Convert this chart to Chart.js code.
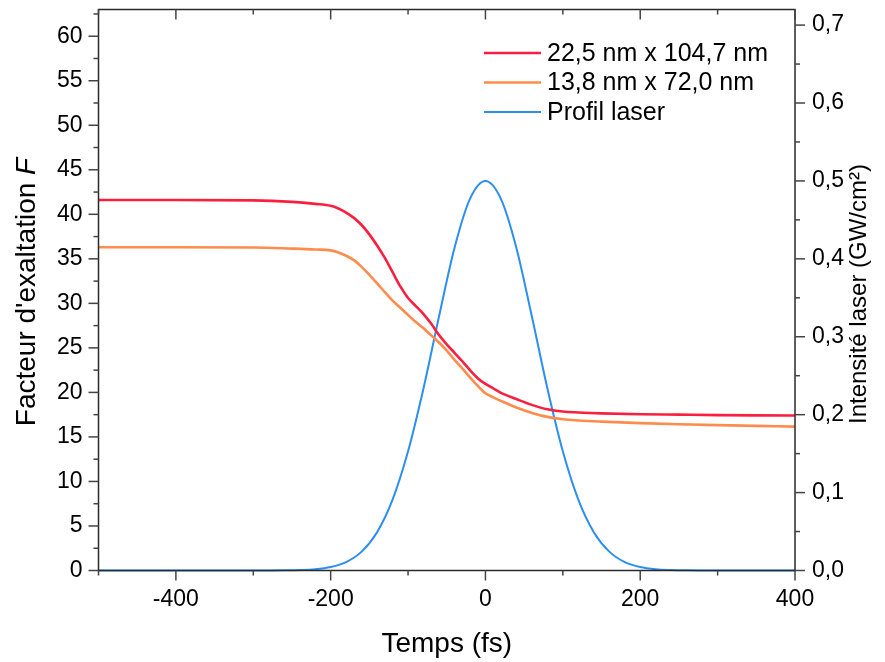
<!DOCTYPE html>
<html lang="fr">
<head>
<meta charset="utf-8">
<title>Facteur d'exaltation et profil laser</title>
<script src="https://cdn.jsdelivr.net/npm/chart.js@4.4.1/dist/chart.umd.min.js"></script>
<style>
  html, body { margin: 0; padding: 0; background: #fff; }
  #wrap { width: 885px; height: 662px; }
</style>
</head>
<body>
<div id="wrap"><canvas id="chart" width="885" height="662"></canvas></div>
<script>
// --- données ---
const temps = [-500, -400, -300, -250, -220,
  -200, -190, -180, -170, -160, -150, -140, -130, -120, -110,
  -100, -90, -80, -70, -60, -50, -40, -30, -20, -10, 0,
  10, 20, 40, 60, 80, 100, 120, 150, 200, 250, 300, 350, 400];
const facteurGrand = [41.6, 41.6, 41.57, 41.4, 41.17,
  40.95, 40.65, 40.2, 39.6, 38.8, 37.75, 36.5, 35.1, 33.5, 31.9,
  30.6, 29.7, 28.8, 27.7, 26.45, 25.4, 24.45, 23.5, 22.5, 21.6, 20.95,
  20.45, 19.95, 19.25, 18.6, 18.1, 17.85, 17.75, 17.65, 17.55, 17.5, 17.45, 17.42, 17.4];
const facteurPetit = [36.3, 36.3, 36.28, 36.15, 36.05,
  35.95, 35.72, 35.35, 34.85, 34.1, 33.2, 32.25, 31.25, 30.3, 29.5,
  28.7, 27.9, 27.2, 26.4, 25.6, 24.7, 23.65, 22.7, 21.7, 20.75, 19.9,
  19.45, 19.05, 18.3, 17.7, 17.25, 16.98, 16.85, 16.72, 16.55, 16.42, 16.32, 16.24, 16.16];

const tempsLaser = [-500, -300, -280, -260, -240, -220, -200, -180, -160, -140, -120, -100,
  -80, -60, -40, -20, 0, 20, 40, 60, 80, 100, 120, 140, 160, 180, 200, 220, 240, 260, 280, 300, 400];
const profilLaser = [0, 0, 0, 0.0002, 0.0006, 0.0016, 0.0044, 0.0108, 0.0242, 0.0492, 0.091, 0.153,
  0.234, 0.326, 0.414, 0.477, 0.5, 0.477, 0.414, 0.326, 0.234, 0.153, 0.091, 0.0492, 0.0242, 0.0108,
  0.0044, 0.0016, 0.0006, 0.0002, 0, 0, 0];

const nomsSeries = ['22,5 nm x 104,7 nm', '13,8 nm x 72,0 nm', 'Profil laser'];
const couleurs = ['#fb1f3f', '#ff8c4c', '#2c8ff0'];

const ticksTemps = [-400, -200, 0, 200, 400];
const ticksFacteur = [0, 5, 10, 15, 20, 25, 30, 35, 40, 45, 50, 55, 60];
const ticksIntensite = [0, 0.1, 0.2, 0.3, 0.4, 0.5, 0.6, 0.7];

const FONT = "'Liberation Sans', Arial, sans-serif";
Chart.defaults.font.family = FONT;
Chart.defaults.color = '#000';

const pts = (xs, ys) => xs.map((t, i) => ({ x: t, y: ys[i] }));

// pas de marge automatique autour des axes : la zone de tracé est fixée à la main
function sansMarge(s) {
  s.paddingTop = 0; s.paddingBottom = 0; s.paddingLeft = 0; s.paddingRight = 0;
}

// --- ticks majeurs / mineurs façon Origin ---
function graduations(scale, pas) {
  const out = [];
  const majeurs = scale.ticks.map(t => t.value);
  for (let i = 0; ; i++) {
    const v = Math.round((scale.min + i * pas) * 10000) / 10000;
    if (v > scale.max + 1e-9) break;
    out.push({ v, major: majeurs.some(m => Math.abs(m - v) < 1e-6) });
  }
  return out;
}

const cadre = {
  id: 'cadre',
  afterDatasetsDraw(chart) {
    const { ctx, chartArea: a, scales } = chart;
    ctx.save();
    ctx.strokeStyle = '#2a2a2a';
    ctx.lineWidth = 1.5;
    ctx.strokeRect(a.left, a.top, a.right - a.left, a.bottom - a.top);

    const trait = (x0, y0, x1, y1) => { ctx.beginPath(); ctx.moveTo(x0, y0); ctx.lineTo(x1, y1); ctx.stroke(); };
    ctx.strokeStyle = '#444';
    ctx.lineWidth = 1.5;

    graduations(scales.x, 100).forEach(g => {
      const p = scales.x.getPixelForValue(g.v), l = g.major ? 10 : 5;
      trait(p, a.bottom, p, a.bottom + l);
      trait(p, a.top, p, a.top + l);
    });
    graduations(scales.y, 2.5).forEach(g => {
      const p = scales.y.getPixelForValue(g.v), l = g.major ? 10 : 5;
      trait(a.left - l, p, a.left, p);
    });
    graduations(scales.y1, 0.05).forEach(g => {
      const p = scales.y1.getPixelForValue(g.v), l = g.major ? 10 : 5;
      trait(a.right, p, a.right + l, p);
    });
    ctx.restore();
  }
};

const titres = {
  id: 'titres',
  afterDraw(chart) {
    const { ctx, chartArea: a } = chart;
    const milieuY = (a.top + a.bottom) / 2;
    ctx.save();
    ctx.fillStyle = '#000';
    ctx.textBaseline = 'alphabetic';

    // axe gauche : "Facteur d'exaltation F" avec F en italique
    ctx.save();
    ctx.translate(35, milieuY + 2);
    ctx.rotate(-Math.PI / 2);
    const part1 = "Facteur d'exaltation ";
    ctx.font = `28px ${FONT}`;
    const w1 = ctx.measureText(part1).width;
    ctx.font = `italic 28px ${FONT}`;
    const w2 = ctx.measureText('F').width;
    ctx.textAlign = 'left';
    ctx.font = `28px ${FONT}`;
    ctx.fillText(part1, -(w1 + w2) / 2, 0);
    ctx.font = `italic 28px ${FONT}`;
    ctx.fillText('F', -(w1 + w2) / 2 + w1, 0);
    ctx.restore();

    // axe droit
    ctx.save();
    ctx.translate(866, milieuY + 4);
    ctx.rotate(-Math.PI / 2);
    ctx.textAlign = 'center';
    ctx.font = `24px ${FONT}`;
    ctx.fillText('Intensité laser (GW/cm²)', 0, 0);
    ctx.restore();

    // axe du bas
    ctx.textAlign = 'center';
    ctx.font = `28px ${FONT}`;
    ctx.fillText('Temps (fs)', (a.left + a.right) / 2, 652);

    // légende
    ctx.font = `25px ${FONT}`;
    ctx.textAlign = 'left';
    ctx.textBaseline = 'middle';
    chart.data.datasets.forEach((ds, i) => {
      const yy = 53 + i * 29.5;
      ctx.strokeStyle = ds.borderColor;
      ctx.lineWidth = ds.borderWidth;
      ctx.beginPath(); ctx.moveTo(484, yy); ctx.lineTo(541, yy); ctx.stroke();
      ctx.fillText(ds.label, 547, yy + 1);
    });
    ctx.restore();
  }
};

new Chart(document.getElementById('chart'), {
  type: 'line',
  data: {
    datasets: [
      { label: nomsSeries[0], data: pts(temps, facteurGrand), yAxisID: 'y',
        borderColor: couleurs[0], borderWidth: 2.6 },
      { label: nomsSeries[1], data: pts(temps, facteurPetit), yAxisID: 'y',
        borderColor: couleurs[1], borderWidth: 2.6 },
      { label: nomsSeries[2], data: pts(tempsLaser, profilLaser), yAxisID: 'y1',
        borderColor: couleurs[2], borderWidth: 2 }
    ]
  },
  options: {
    responsive: false,
    animation: false,
    clip: false,
    elements: {
      point: { radius: 0, hoverRadius: 0 },
      line: { cubicInterpolationMode: 'monotone', fill: false }
    },
    layout: { padding: { top: 9.5, left: 0, right: 0, bottom: 0 } },
    plugins: { legend: { display: false }, tooltip: { enabled: false } },
    scales: {
      x: {
        type: 'linear', position: 'bottom', min: -500, max: 400,
        afterBuildTicks: s => { s.ticks = ticksTemps.map(v => ({ value: v })); },
        afterFit: s => { s.height = 91.5; sansMarge(s); },
        ticks: { font: { size: 23 }, padding: 15, maxRotation: 0, autoSkip: false },
        grid: { display: false, drawTicks: false },
        border: { display: false }
      },
      y: {
        type: 'linear', position: 'left', min: 0, max: 63,
        afterBuildTicks: s => { s.ticks = ticksFacteur.map(v => ({ value: v })); },
        afterFit: s => { s.width = 98.5; sansMarge(s); },
        ticks: { font: { size: 23 }, padding: 16, autoSkip: false },
        grid: { display: false, drawTicks: false },
        border: { display: false }
      },
      y1: {
        type: 'linear', position: 'right', min: 0, max: 0.72,
        afterBuildTicks: s => { s.ticks = ticksIntensite.map(v => ({ value: v })); },
        afterFit: s => { s.width = 90; sansMarge(s); },
        ticks: { font: { size: 23 }, padding: 17, autoSkip: false,
          callback: v => v.toFixed(1).replace('.', ',') },
        grid: { display: false, drawTicks: false },
        border: { display: false }
      }
    }
  },
  plugins: [cadre, titres]
});
</script>
</body>
</html>
